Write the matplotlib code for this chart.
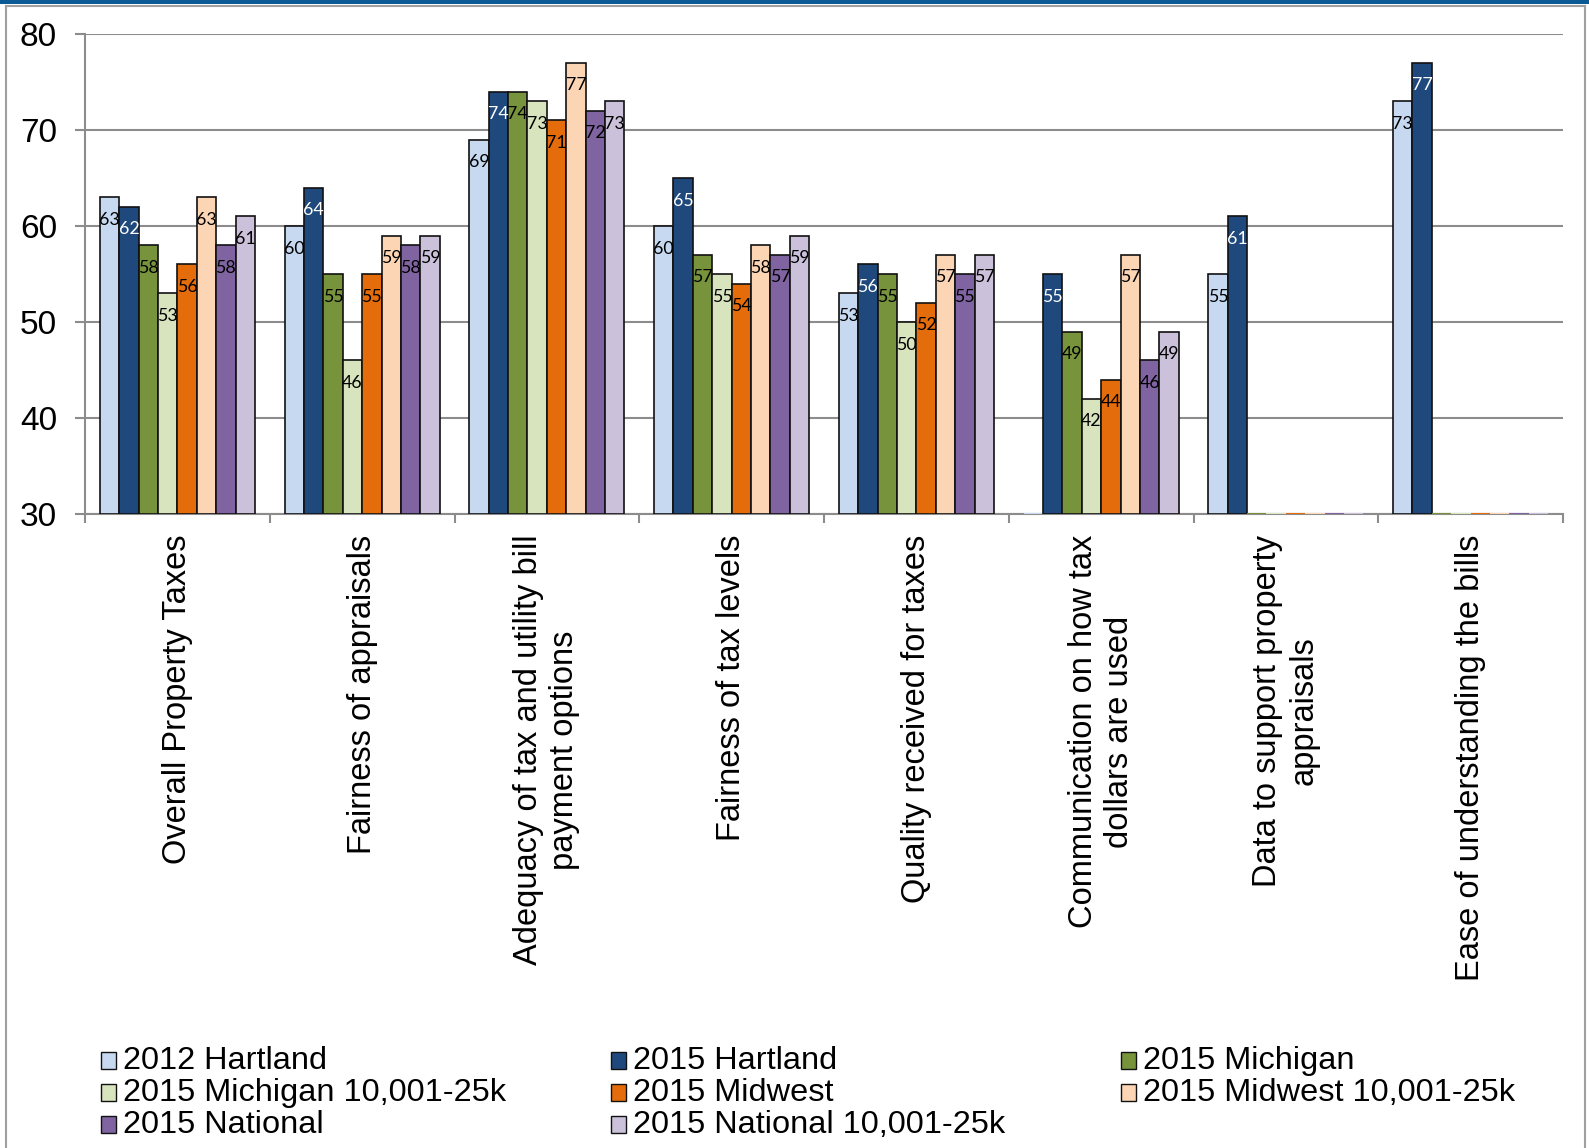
import numpy as np
import matplotlib
matplotlib.use("Agg")
import matplotlib.pyplot as plt
from matplotlib.patches import Rectangle
from matplotlib.lines import Line2D

# ---- data -------------------------------------------------------------
categories = [
    "Overall Property Taxes",
    "Fairness of appraisals",
    "Adequacy of tax and utility bill\npayment options",
    "Fairness of tax levels",
    "Quality received for taxes",
    "Communication on how tax\ndollars are used",
    "Data to support property\nappraisals",
    "Ease of understanding the bills",
]

series_names = [
    "2012 Hartland",
    "2015 Hartland",
    "2015 Michigan",
    "2015 Michigan 10,001-25k",
    "2015 Midwest",
    "2015 Midwest 10,001-25k",
    "2015 National",
    "2015 National 10,001-25k",
]

nan = np.nan
hartland_2012 = [63, 60, 69, 60, 53, nan, 55, 73]
hartland_2015 = [62, 64, 74, 65, 56, 55, 61, 77]
michigan_2015 = [58, 55, 74, 57, 55, 49, nan, nan]
michigan_10k_2015 = [53, 46, 73, 55, 50, 42, nan, nan]
midwest_2015 = [56, 55, 71, 54, 52, 44, nan, nan]
midwest_10k_2015 = [63, 59, 77, 58, 57, 57, nan, nan]
national_2015 = [58, 58, 72, 57, 55, 46, nan, nan]
national_10k_2015 = [61, 59, 73, 59, 57, 49, nan, nan]

series_values = [hartland_2012, hartland_2015, michigan_2015, michigan_10k_2015,
                 midwest_2015, midwest_10k_2015, national_2015, national_10k_2015]

colors = ["#C6D9F1", "#1F497D", "#77933C", "#D7E4BD",
          "#E46C0A", "#FCD5B5", "#8064A2", "#CCC1DA"]
label_colors = ["black", "white", "black", "black",
                "black", "black", "black", "black"]

y_ticks = [30, 40, 50, 60, 70, 80]

# ---- figure -----------------------------------------------------------
W, H = 1589, 1148
fig = plt.figure(figsize=(W / 100, H / 100), dpi=100)
fig.patch.set_facecolor("white")

ax = fig.add_axes([85 / W, 1 - 514 / H, 1478 / W, 480 / H])

grid_gray = "#8C8C8C"
bar_w = 0.105
n_series = len(series_values)
centers = np.arange(len(categories)) + 0.5

for j, (vals, col, lcol) in enumerate(zip(series_values, colors, label_colors)):
    xs = centers + (j - (n_series - 1) / 2) * bar_w
    for xp, v in zip(xs, vals):
        if np.isnan(v):
            # empty response: flat stub on the baseline
            ax.bar(xp, 0, bar_w, bottom=y_ticks[0], color=col,
                   edgecolor=col, linewidth=1.5, zorder=3)
            continue
        ax.bar(xp, v - y_ticks[0], bar_w, bottom=y_ticks[0], color=col,
               edgecolor="#111111", linewidth=1.2, zorder=3)
        ax.annotate(f"{v:.0f}", (xp, v), xytext=(0, -16.3),
                    textcoords="offset points", ha="center", va="center",
                    fontsize=12.8, family="Lato", color=lcol, zorder=4)

ax.set_xlim(0, len(categories))
ax.set_ylim(y_ticks[0], y_ticks[-1])
ax.set_axisbelow(True)

ax.set_yticks(y_ticks)
ax.set_yticklabels([str(t) for t in y_ticks], fontsize=24,
                   family="Liberation Sans")
ax.yaxis.grid(True, color=grid_gray, linewidth=1.5)
ax.tick_params(axis="y", length=7.2, width=1.5, color=grid_gray, pad=13)

ax.set_xticks(np.arange(len(categories) + 1))
ax.set_xticklabels([])
ax.set_xticks(centers, minor=True)
ax.set_xticklabels(categories, minor=True, fontsize=23.5,
                   family="Liberation Sans", rotation=90)
ax.tick_params(axis="x", which="major", length=6.5, width=1.5,
               color=grid_gray, direction="out")
ax.tick_params(axis="x", which="minor", length=0, pad=15)
for t in ax.get_xticklabels(minor=True):
    t.set_multialignment("center")

for side in ("top", "right"):
    ax.spines[side].set_visible(False)
for side in ("left", "bottom"):
    ax.spines[side].set_color(grid_gray)
    ax.spines[side].set_linewidth(1.5)

# ---- legend (row-wise, three columns) ---------------------------------
col_x = [101, 611, 1121]
row_y = [1060, 1092, 1124]
for k, (name, col) in enumerate(zip(series_names, colors)):
    r, c = divmod(k, 3)
    sx, sy = col_x[c], row_y[r]
    fig.patches.append(Rectangle(((sx) / W, 1 - (sy + 8.5) / H), 15 / W, 17 / H,
                                 transform=fig.transFigure, facecolor=col,
                                 edgecolor="#111111", linewidth=1.0))
    fig.text((sx + 22) / W, 1 - (sy + 1) / H, name, fontsize=23.4,
             family="Liberation Sans", ha="left", va="center")

# ---- frame ------------------------------------------------------------
fig.patches.append(Rectangle((0, 1 - 4 / H), 1, 4 / H, transform=fig.transFigure,
                             facecolor="#0B5A96", edgecolor="none"))
frame_gray = "#A0A0A0"
fig.lines.append(Line2D([6 / W, 1585 / W], [1 - 5.5 / H, 1 - 5.5 / H],
                        transform=fig.transFigure, color=frame_gray, linewidth=1.5))
fig.lines.append(Line2D([6 / W, 6 / W], [0, 1 - 5.5 / H],
                        transform=fig.transFigure, color=frame_gray, linewidth=1.5))
fig.lines.append(Line2D([1585 / W, 1585 / W], [0, 1 - 5.5 / H],
                        transform=fig.transFigure, color=frame_gray, linewidth=1.5))

fig.savefig("out.png", dpi=100)
